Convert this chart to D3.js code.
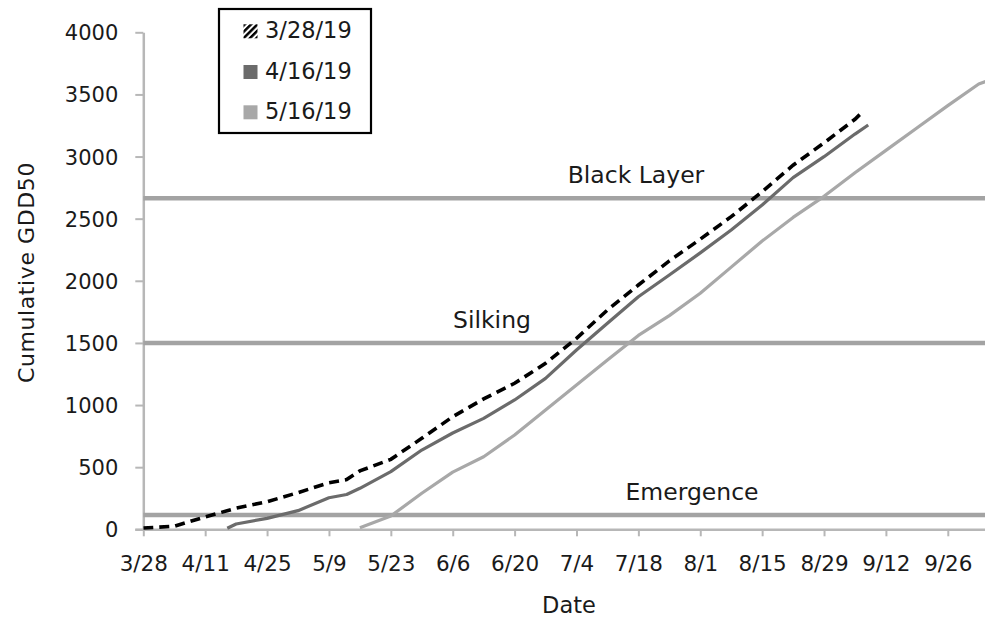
<!DOCTYPE html>
<html><head><meta charset="utf-8">
<script src="https://cdn.jsdelivr.net/npm/d3@7"></script>
<style>
body{margin:0;background:#fff;}
text{font-family:"DejaVu Sans",sans-serif;fill:#1a1a1a;}
</style></head>
<body><svg id="c" width="985" height="620"></svg>
<script>
// ---- data ----
const dates1 = ["3/28","4/4","4/11","4/18","4/25","5/2","5/9","5/13","5/16","5/23","5/30","6/6","6/13","6/20","6/27","7/4","7/11","7/18","7/25","8/1","8/8","8/15","8/22","8/29","9/5","9/7"];
const values1 = [10,25,100,170,222,295,375,400,470,563,732,906,1050,1175,1336,1537,1765,1966,2160,2335,2516,2717,2930,3110,3300,3370];
const dates2 = ["4/16","4/18","4/25","5/2","5/9","5/13","5/16","5/23","5/30","6/6","6/13","6/20","6/27","7/4","7/11","7/18","7/25","8/1","8/8","8/15","8/22","8/29","9/5","9/8"];
const values2 = [8,43,88,150,254,280,330,464,638,775,893,1041,1215,1443,1658,1872,2047,2225,2409,2610,2830,2999,3181,3254];
const dates3 = ["5/16","5/23","5/30","6/6","6/13","6/20","6/27","7/4","7/11","7/18","7/25","8/1","8/8","8/15","8/22","8/29","9/5","9/12","9/19","9/26","10/3","10/5"];
const values3 = [13,107,290,460,584,759,960,1161,1363,1560,1720,1900,2110,2320,2510,2680,2870,3050,3230,3410,3584,3610];
const seriesNames = ["3/28/19","4/16/19","5/16/19"];
const xTickLabels = ["3/28","4/11","4/25","5/9","5/23","6/6","6/20","7/4","7/18","8/1","8/15","8/29","9/12","9/26"];
const yTicks = [0,500,1000,1500,2000,2500,3000,3500,4000];
const stageNames = ["Emergence","Silking","Black Layer"];
const stageValues = [115,1500,2665];

// ---- setup ----
const parse = s => { const [m,d] = s.split("/").map(Number); return new Date(2019, m-1, d); };
const svg = d3.select("#c");
const pLeft = 143.3, pRight = 985, pTop = 32.3, pBottom = 529.3;
const x = d3.scaleTime()
  .domain([parse("3/28"), new Date(2019, 9, 4, 10)])
  .range([pLeft, pRight]);
const y = d3.scaleLinear().domain([0,4000]).range([pBottom, pTop]);

const axisColor = "#b7b7b7";

// x axis
const gx = svg.append("g").attr("transform",`translate(0,${pBottom})`)
  .call(d3.axisBottom(x).tickValues(xTickLabels.map(parse)).tickFormat(d3.timeFormat("%-m/%-d")).tickSize(7).tickSizeOuter(0));
gx.select(".domain").attr("stroke",axisColor).attr("stroke-width",2.5).attr("d",`M${pLeft-8},0.5H${pRight}`);
gx.selectAll(".tick line").attr("stroke",axisColor).attr("stroke-width",2);
gx.selectAll(".tick text").attr("font-size",21.5).attr("y",42).attr("dy",0).style("fill","#1a1a1a").attr("font-family","DejaVu Sans");

// y axis
const gy = svg.append("g").attr("transform",`translate(${pLeft},0)`)
  .call(d3.axisLeft(y).tickValues(yTicks).tickFormat(d3.format("d")).tickSize(8).tickSizeOuter(0));
gy.select(".domain").attr("stroke",axisColor).attr("stroke-width",2.5);
gy.selectAll(".tick line").attr("stroke",axisColor).attr("stroke-width",2);
gy.selectAll(".tick text").attr("font-size",21).attr("x",-25).attr("dy","0.36em").style("fill","#1a1a1a").attr("font-family","DejaVu Sans");

// stage lines
stageValues.forEach((v,i)=>{
  svg.append("line").attr("x1",pLeft).attr("x2",pRight).attr("y1",y(v)).attr("y2",y(v))
    .attr("stroke","#a3a3a3").attr("stroke-width",4.5);
});
const stageLabelX = [692,492,636];
stageNames.forEach((n,i)=>{
  svg.append("text").attr("x",stageLabelX[i]).attr("y",y(stageValues[i])-15)
    .attr("text-anchor","middle").attr("font-size",23.5).text(n);
});

// series
const line = d3.line().x(d=>x(d[0])).y(d=>y(d[1]));
const s3 = dates3.map((d,i)=>[parse(d),values3[i]]);
const s2 = dates2.map((d,i)=>[parse(d),values2[i]]);
const s1 = dates1.map((d,i)=>[parse(d),values1[i]]);
const defs = svg.append("defs");
defs.append("clipPath").attr("id","clip").append("rect")
  .attr("x",pLeft).attr("y",0).attr("width",pRight-pLeft).attr("height",pBottom+2);
const plot = svg.append("g").attr("clip-path","url(#clip)");
plot.append("path").datum(s3).attr("d",line).attr("fill","none").attr("stroke","#a8a8a8").attr("stroke-width",3.2).attr("stroke-linejoin","round");
plot.append("path").datum(s2).attr("d",line).attr("fill","none").attr("stroke","#6b6b6b").attr("stroke-width",3.2).attr("stroke-linejoin","round");
plot.append("path").datum(s1).attr("d",line).attr("fill","none").attr("stroke","#000").attr("stroke-width",3.6).attr("stroke-dasharray","10,6");

// axis titles
svg.append("text").attr("transform","translate(34,272.5) rotate(-90)").attr("text-anchor","middle").attr("font-size",22).attr("letter-spacing",0.6).text("Cumulative GDD50");
svg.append("text").attr("x",569).attr("y",612.5).attr("text-anchor","middle").attr("font-size",22.5).text("Date");

// legend
const lg = svg.append("g");
lg.append("rect").attr("x",219).attr("y",9).attr("width",152).attr("height",124).attr("fill","#fff").attr("stroke","#000").attr("stroke-width",2.2);
const pat = defs.append("pattern").attr("id","hatch").attr("patternUnits","userSpaceOnUse")
  .attr("width",4.5).attr("height",4.5).attr("patternTransform","rotate(45)");
pat.append("rect").attr("width",4.5).attr("height",4.5).attr("fill","#fff");
pat.append("rect").attr("width",2.5).attr("height",4.5).attr("fill","#000");
const legFills = ["url(#hatch)","#6b6b6b","#a8a8a8"];
const legBaselines = [38.3,79,119.3];
seriesNames.forEach((n,i)=>{
  const b = legBaselines[i];
  lg.append("rect").attr("x",243.5).attr("y",b-14).attr("width",14).attr("height",14).attr("fill",legFills[i]);
  lg.append("text").attr("x",265).attr("y",b).attr("font-size",22.5).text(n);
});
</script></body></html>
